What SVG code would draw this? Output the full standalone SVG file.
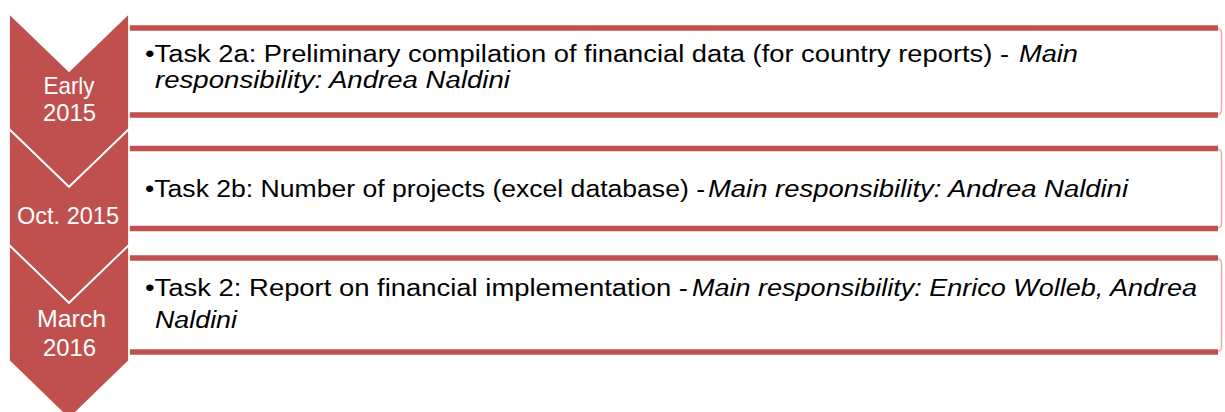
<svg xmlns="http://www.w3.org/2000/svg" width="1225" height="412" viewBox="0 0 1225 412">
<style>
.box{fill:#fff;stroke:#e3b1b0;stroke-width:1.5}
.bar{stroke:#C0504D;stroke-width:5.5;stroke-linecap:butt}
.chev{fill:#C0504D;stroke:#fff;stroke-width:1.8;stroke-linejoin:miter}
.t{font-family:"Liberation Sans",Arial,sans-serif;font-size:23px;fill:#000}
.i{font-style:italic}
.d{font-family:"Liberation Sans",Arial,sans-serif;font-size:24px;fill:#fff;text-anchor:middle}
</style>
<rect width="1225" height="412" fill="#fff"/>
<g id="task1">
<rect class="box" x="126" y="28" width="1095.5" height="87" rx="5"/>
<line class="bar" x1="126" y1="28" x2="1218" y2="28"/>
<line class="bar" x1="126" y1="115" x2="1218" y2="115"/>
<text class="t"><tspan x="145" y="62" textLength="864" lengthAdjust="spacingAndGlyphs">•Task 2a: Preliminary compilation of financial data (for country reports) -</tspan><tspan class="i" x="1019" y="62" textLength="59" lengthAdjust="spacingAndGlyphs">Main</tspan><tspan class="i" x="155" y="88" textLength="355" lengthAdjust="spacingAndGlyphs">responsibility: Andrea Naldini</tspan></text>
</g>
<g id="task2">
<rect class="box" x="126" y="148.5" width="1095.5" height="80" rx="5"/>
<line class="bar" x1="126" y1="148.5" x2="1218" y2="148.5"/>
<line class="bar" x1="126" y1="228.5" x2="1218" y2="228.5"/>
<text class="t"><tspan x="145" y="197" textLength="560" lengthAdjust="spacingAndGlyphs">•Task 2b: Number of projects (excel database) -</tspan><tspan class="i" x="708" y="197" textLength="420" lengthAdjust="spacingAndGlyphs">Main responsibility: Andrea Naldini</tspan></text>
</g>
<g id="task3">
<rect class="box" x="126" y="258" width="1095.5" height="94" rx="5"/>
<line class="bar" x1="126" y1="258" x2="1218" y2="258"/>
<line class="bar" x1="126" y1="352" x2="1218" y2="352"/>
<text class="t"><tspan x="145" y="296" textLength="543" lengthAdjust="spacingAndGlyphs">•Task 2: Report on financial implementation -</tspan><tspan class="i" x="692" y="296" textLength="505" lengthAdjust="spacingAndGlyphs">Main responsibility:  Enrico Wolleb, Andrea</tspan><tspan class="i" x="155" y="328" textLength="82" lengthAdjust="spacingAndGlyphs">Naldini</tspan></text>
</g>
<g id="early2015">
<polygon class="chev" points="9,13 69,71 129,13 129,129 69,187 9,129"/>
<text class="d"><tspan x="69" y="94" textLength="51" lengthAdjust="spacingAndGlyphs">Early</tspan><tspan x="69.5" y="121" textLength="53" lengthAdjust="spacingAndGlyphs">2015</tspan></text>
</g>
<g id="oct2015">
<polygon class="chev" points="9,129 69,187 129,129 129,245 69,303 9,245"/>
<text class="d" x="68" y="224" textLength="102" lengthAdjust="spacingAndGlyphs">Oct. 2015</text>
</g>
<g id="march2016">
<polygon class="chev" points="9,245 69,303 129,245 129,361 69,419 9,361"/>
<text class="d"><tspan x="71.5" y="327" textLength="69" lengthAdjust="spacingAndGlyphs">March</tspan><tspan x="69.5" y="356" textLength="53" lengthAdjust="spacingAndGlyphs">2016</tspan></text>
</g>
</svg>
